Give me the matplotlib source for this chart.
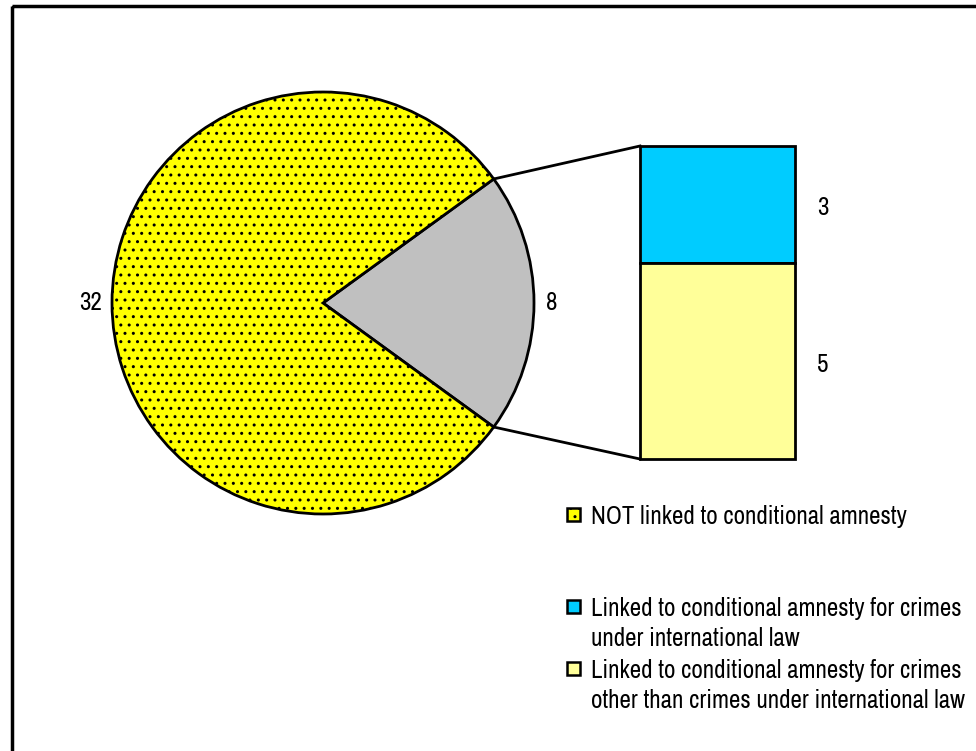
import matplotlib
matplotlib.use('Agg')
from matplotlib import pyplot as plt
from matplotlib import font_manager
from matplotlib.patches import Rectangle
import numpy as np

# pick a narrow face if one is there
names = sorted(set((f.name, f.stretch) for f in font_manager.fontManager.ttflist))
narrow = [n for n, s in names if 'Narrow' in n or 'Condensed' in n]
stretch = 'normal'
if narrow:
    fam = narrow[0]
else:
    fam = 'DejaVu Sans'
    stretch = 'condensed'
plt.rcParams['font.family'] = [fam, 'DejaVu Sans']
plt.rcParams['font.stretch'] = stretch
plt.rcParams['hatch.linewidth'] = 1.0
plt.rcParams['hatch.color'] = '#222200'

# data
pie_labels = ['NOT linked to conditional amnesty', 'Linked to conditional amnesty']
pie_values = [32, 8]
bar_labels = ['Linked to conditional amnesty for crimes\nunder international law',
              'Linked to conditional amnesty for crimes\nother than crimes under international law']
bar_values = [3, 5]

fig = plt.figure(figsize=(9.76, 7.51), dpi=100)
ax = fig.add_axes([0, 0, 1, 1])

cx, cy, r = 323, 303, 211
share = pie_values[1] / sum(pie_values)
wedges, _ = ax.pie(pie_values[::-1], colors=['#c0c0c0', '#ffff00'],
                   startangle=-share * 180, counterclock=True,
                   center=(cx, cy), radius=r, frame=True,
                   wedgeprops=dict(edgecolor='black', linewidth=2))
ax.set_xlim(0, 976)
ax.set_ylim(751, 0)
ax.set_aspect('equal')
ax.axis('off')
wedges[1].set_hatch('..')

# outer frame (right / bottom edges fall outside the picture)
ax.add_patch(Rectangle((12, 6), 1100, 900, fill=False, lw=2.5, ec='black'))

fs = 18
ax.text(cx - r - 10, cy, str(pie_values[0]), ha='right', va='center', fontsize=fs)
ax.text(cx + r + 12, cy, str(pie_values[1]), ha='left', va='center', fontsize=fs)

# bar of pie
bx, bw, btop, bbot = 640, 155, 146, 459
unit = (bbot - btop) / sum(bar_values)
bar_colors = ['#00ccff', '#ffff99']
y = btop
for v, c in zip(bar_values, bar_colors):
    h = v * unit
    ax.bar(bx + bw / 2, h, width=bw, bottom=y, color=c, edgecolor='black', linewidth=2)
    ax.text(bx + bw + 22, y + h / 2 + 3, str(v), ha='left', va='center', fontsize=fs)
    y += h

# connector lines
ang = np.deg2rad(share * 180)
ax.plot([cx + r * np.cos(ang), bx], [cy - r * np.sin(ang), btop], color='black', lw=2)
ax.plot([cx + r * np.cos(ang), bx], [cy + r * np.sin(ang), bbot], color='black', lw=2)

# legend
leg_items = [(pie_labels[0], '#ffff00', '..', 514),
             (bar_labels[0], bar_colors[0], None, 606),
             (bar_labels[1], bar_colors[1], None, 668)]
for lab, c, hat, ly in leg_items:
    ax.add_patch(Rectangle((567, ly - 6), 13, 13, facecolor=c, edgecolor='black',
                           lw=1.8, hatch=hat))
    for i, line in enumerate(lab.split('\n')):
        ax.text(591, ly + 2 + i * 31, line, ha='left', va='center', fontsize=fs)

plt.savefig('out.png', dpi=100)
